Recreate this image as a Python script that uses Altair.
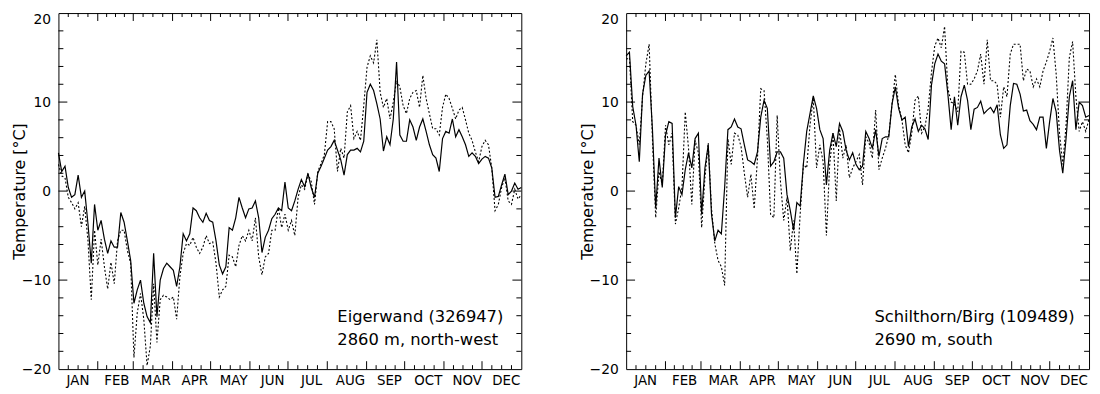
import altair as alt
import pandas as pd

FONT = "DejaVu Sans"
MONTHS = ["JAN", "FEB", "MAR", "APR", "MAY", "JUN", "JUL", "AUG", "SEP", "OCT", "NOV", "DEC"]
MONTH_START = [0, 31, 59, 90, 120, 151, 181, 212, 243, 273, 304, 334, 365]
LABEL_DAY = [15 + 30.7 * i for i in range(12)]
Y_LABELS = [-20, -10, 0, 10, 20]

# samples every 365/141 days
eiger_solid = [4.3, 2.2, 2.8, 0.4, -0.7, -0.4, 1.8, -0.7, 0, -3.7,
               -8.1, -1.5, -4.4, -3.3, -5.4, -7, -5.6, -6.3, -6.3, -2.4,
               -3.5, -5.6, -7.8, -12.6, -11.1, -10, -12.6, -14.1, -14.8, -7,
               -14.1, -10, -8.7, -8.1, -8.5, -8.9, -10.7, -8.5, -4.8, -5.6,
               -4.8, -1.9, -2.2, -3, -3.5, -2.5, -3.3, -3.5, -5.6, -8.3,
               -9.3, -8.5, -4.1, -4.4, -3, -0.7, -1.9, -3, -2, -1.9,
               -1.1, -3, -6.9, -5.2, -4.4, -3.1, -2.6, -1.9, -2.2, 1.0,
               -1.9, -2.2, -1.1, 0.2, 1.3, 0.5, 2.0, 0.4, -0.7, 2,
               2.8, 3.7, 4.6, 5, 5.7, 4.6, 3.5, 1.8, 4.1, 4.6,
               4.6, 4.8, 4.4, 5.6, 11.1, 12, 11.3, 9.8, 8.1, 4.5,
               6.1, 5.2, 8.1, 14.5, 6.3, 5.6, 5.6, 8, 7.2, 5.7,
               7.2, 8.1, 6.7, 5.2, 4.1, 3.7, 2.2, 5.9, 6.7, 6.5,
               8.1, 6.1, 6.9, 6.1, 5.2, 3.9, 4.3, 3.9, 3.1, 3.6,
               3.9, 3.7, 2.6, -0.7, -0.6, 0.7, 1.9, -0.4, 0, 0.9,
               0.2, 0.4]
eiger_dotted = [3, 1.7, 1.5, -0.7, -1.3, -2, -1.3, -4, -1.7, -5.6,
                -12.2, -4.4, -8.3, -5.4, -8.5, -11, -8, -10.4, -5.6, -4.4,
                -4.4, -6.7, -8.1, -18.7, -13.7, -11.5, -14.4, -19.6, -17.4, -10.4,
                -17, -12.2, -11.7, -11.9, -12.2, -11.9, -14.4, -9.6, -7, -5.9,
                -6.1, -5.2, -6.3, -7, -6.3, -5, -5.9, -5.7, -8.1, -11.9,
                -11.1, -10.7, -7.2, -7.4, -8.5, -6.1, -5, -5.6, -4.4, -5.6,
                -3, -7.4, -9.4, -7.4, -7, -4.4, -4.4, -1.9, -4.1, -2.6,
                -4.4, -3.3, -5, -0.7, 0.7, 0.2, 1.9, 1.1, -1.5, 2.2,
                3.1, 4.1, 7.8, 7.8, 7, 2.2, 4.8, 3.7, 8.9, 9.6,
                5.9, 6.7, 5.7, 9.6, 13.9, 15.2, 14.4, 17, 11.1, 9.4,
                10.4, 8.1, 10, 12.4, 11.7, 9.6, 8.7, 10.4, 11.1, 11.3,
                9.4, 13, 10.4, 8.7, 7, 7, 6.3, 9.4, 10.9, 10.4,
                9.3, 8.1, 9.1, 9.4, 8, 6.5, 5.7, 4.4, 3.3, 5,
                5.7, 5.2, 2.6, -2.2, -1.5, 0.4, 1.5, -1.1, -1.5, 0.2,
                -0.9, -0.4]
schilt_solid = [15.2, 15.6, 9.5, 7.4, 3.3, 10.9, 13, 13.5, 7, -1.9,
                3.7, 0.4, 6.3, 7.8, 7.6, -3.0, 0.5, -0.4, 2.4, 4.3,
                2.6, 5.9, 6.5, -2.6, 2.6, 5.2, -2.6, -5.6, -4.4, -4.8,
                0.4, 6.9, 7.2, 8.1, 7.2, 7, 5.2, 3.5, 3.3, 3,
                4.4, 8.3, 10.2, 9.3, 2.8, 3.3, 4.4, 4.4, 3.7, -0.4,
                -2.2, -4.4, -1.3, -1.7, 3.1, 6.7, 8.7, 10.7, 9.3, 6.9,
                5.9, 0.7, 4.6, 6.5, 5, 7.6, 6.7, 4.6, 3.5, 4.3,
                3, 2.4, 2.8, 6.7, 5.9, 4.8, 6.9, 3.9, 5.9, 6.1,
                6.1, 9.8, 11.7, 9.3, 8, 8.3, 5, 7.2, 8.1, 6.7,
                7.4, 7, 5.8, 11.9, 14.3, 15.4, 14.6, 14.3, 10.9, 6.9,
                10.6, 7.4, 10.6, 11.9, 10.2, 6.9, 9.2, 9.4, 10.1, 8.7,
                9.1, 9.4, 8.8, 9.7, 6.3, 4.8, 5.2, 9.6, 12.1, 12,
                10.9, 9, 9.1, 7.9, 7.5, 6.9, 8.3, 8.3, 4.8, 7.8,
                10.4, 8.9, 4.6, 2, 5.9, 10.6, 12.4, 6.9, 10, 9.6,
                8.3, 8.5]
schilt_dotted = [14.8, 15, 7.8, 7.4, 5.2, 10.6, 14.3, 16.5, 5.9, -3,
                 2.2, 0.7, 7.4, 5.2, 6.5, -3.7, -1.9, 0.4, 8.9, 4.8,
                 -1.5, 5.7, 4.3, -4.1, 1.5, 5.4, -2, -5.9, -7.8, -8.5,
                 -10.6, 5.9, 3, 6.5, 6.3, 5, 2, -0.7, 1.9, -2.0,
                 3.7, 11.5, 11.3, 5.9, -2.6, -3, 8.5, 1.1, -3.3, -0.7,
                 -6.7, -3.3, -9.3, -2.6, 3, 2.6, 7.4, 10.5, 2.6, 5.2,
                 3.3, -5, 3, 6.5, -1.1, 7, 3.7, 5.2, 1.5, 2.6,
                 3.3, 4.1, 0.7, 6.1, 5.4, 3.7, 9.1, 2.4, 3.7, 4.8,
                 6.3, 9.8, 13.1, 9.6, 8, 5.2, 4.3, 6.5, 10.2, 10.7,
                 6.5, 7.2, 9.3, 13.3, 16.3, 17.2, 16.1, 18.5, 11.5, 10,
                 9.8, 8.9, 15.7, 15.6, 12, 12, 12.6, 13.5, 15.4, 12,
                 17, 12.4, 12.4, 12, 8.3, 11.7, 10.6, 15.4, 16.5, 16.5,
                 16.5, 12.4, 13.7, 13.5, 11.7, 12.6, 11.7, 13.5, 14.5, 15.7,
                 17.2, 13.1, 6.5, 3, 7.4, 15, 16.8, 10.6, 6.7, 7.8,
                 6.7, 8.1]

STEP = 365 / 141
DAYS = [round(i * STEP, 3) for i in range(142)]

MAJOR_X = MONTH_START[1:-1]
MINOR_X = [MONTH_START[i] + (MONTH_START[i + 1] - MONTH_START[i]) * j / 4
           for i in range(12) for j in (1, 2, 3)]
MAJOR_Y = [-10, 0, 10]
MINOR_Y = [v for v in range(-18, 20, 2) if v % 10 != 0]
LABEL_EXPR = "[" + ",".join("'%s'" % m for m in MONTHS) + "][round((datum.value - 15) / 30.7)]"

W, H = 468, 360
xs = alt.Scale(domain=[0, 365], nice=False, zero=False)
ys = alt.Scale(domain=[-20, 20], nice=False, zero=False)

XAXIS = alt.Axis(values=LABEL_DAY, labelExpr=LABEL_EXPR, ticks=False, domain=False,
                 grid=False, labelPadding=5, labelFontSize=13.5, labelColor="black",
                 labelFont=FONT, title=None)
YAXIS = alt.Axis(values=Y_LABELS, ticks=False, domain=False, grid=False,
                 labelPadding=8, labelFontSize=14, labelColor="black", labelFont=FONT,
                 labelBaseline=alt.condition("datum.value == 20", alt.value("top"), alt.value("middle")),
                 title="Temperature [°C]", titleFont=FONT, titleFontSize=16,
                 titleFontWeight="normal", titleColor="black",
                 titleX=-39, titleY=H / 2, titleAngle=-90,
                 titleAlign="center", titleBaseline="middle")


def xticks(vals, length):
    d = alt.Chart(pd.DataFrame({"day": vals}))
    xe = alt.X("day:Q", scale=xs, axis=XAXIS)
    top = d.mark_rule(color="black", strokeWidth=1).encode(x=xe, y=alt.value(0), y2=alt.value(length))
    bot = d.mark_rule(color="black", strokeWidth=1).encode(x=xe, y=alt.value(H), y2=alt.value(H - length))
    return [top, bot]


def yticks(vals, length):
    d = alt.Chart(pd.DataFrame({"temp": vals}))
    ye = alt.Y("temp:Q", scale=ys, axis=YAXIS)
    left = d.mark_rule(color="black", strokeWidth=1).encode(y=ye, x=alt.value(0), x2=alt.value(length))
    right = d.mark_rule(color="black", strokeWidth=1).encode(y=ye, x=alt.value(W), x2=alt.value(W - length))
    return [left, right]


def panel(solid, dotted, line1, line2, tx):
    rows = [{"day": d, "temp": v, "kind": "solid"} for d, v in zip(DAYS, solid)] + \
           [{"day": d, "temp": v, "kind": "dotted"} for d, v in zip(DAYS, dotted)]
    df = pd.DataFrame(rows)
    xe = alt.X("day:Q", scale=xs, axis=XAXIS)
    ye = alt.Y("temp:Q", scale=ys, axis=YAXIS)
    solid_line = alt.Chart(df).transform_filter("datum.kind == 'solid'").mark_line(
        color="black", strokeWidth=1.2).encode(x=xe, y=ye)
    dotted_line = alt.Chart(df).transform_filter("datum.kind == 'dotted'").mark_line(
        color="black", strokeWidth=1.1, strokeDash=[2, 2]).encode(x=xe, y=ye)
    t1 = alt.Chart(pd.DataFrame({"t": [line1]})).mark_text(
        align="left", baseline="middle", fontSize=16.5, font=FONT, color="black").encode(
        text="t:N", x=alt.value(tx), y=alt.value(307))
    t2 = alt.Chart(pd.DataFrame({"t": [line2]})).mark_text(
        align="left", baseline="middle", fontSize=16.5, font=FONT, color="black").encode(
        text="t:N", x=alt.value(tx), y=alt.value(331))
    layers = [dotted_line, solid_line] + xticks(MAJOR_X, 8) + xticks(MINOR_X, 4) \
        + yticks(MAJOR_Y, 9) + yticks(MINOR_Y, 5) + [t1, t2]
    return alt.layer(*layers).properties(width=W, height=H)


left = panel(eiger_solid, eiger_dotted, "Eigerwand (326947)", "2860 m, north-west", 282)
right = panel(schilt_solid, schilt_dotted, "Schilthorn/Birg (109489)", "2690 m, south", 251)

chart = alt.hconcat(left, right, spacing=106, bounds="flush").properties(
    padding={"left": 3, "top": 2, "right": 0, "bottom": 0}
).configure(font=FONT).configure_view(stroke="black", strokeWidth=1)

chart.save("out.html", embed_options={"renderer": "svg", "actions": False})
